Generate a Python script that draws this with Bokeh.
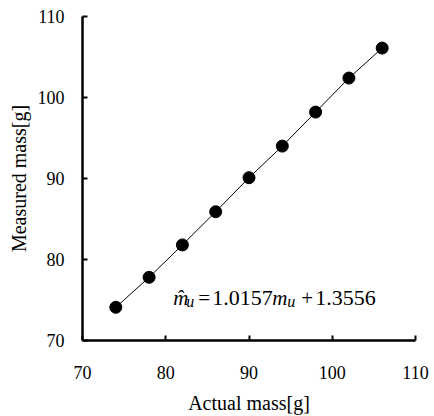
from bokeh.plotting import figure
from bokeh.models import Range1d, FixedTicker, Label
from bokeh.embed import file_html
from bokeh.resources import INLINE

actual_mass = [74, 78, 82, 86, 90, 94, 98, 102, 106]
measured_mass = [74.1, 77.8, 81.8, 85.9, 90.1, 94.0, 98.2, 102.4, 106.1]
ticks = [70, 80, 90, 100, 110]
eq_anchor_x = [80.9]
eq_anchor_y = [75.3]

FONT = "Liberation Serif"

p = figure(width=429, height=414, output_backend="svg", toolbar_location=None,
           x_range=Range1d(70, 110), y_range=Range1d(70, 110),
           frame_width=333, frame_height=324,
           min_border_left=82, min_border_top=16, min_border_right=14, min_border_bottom=74)
p.outline_line_color = None
p.xgrid.visible = False
p.ygrid.visible = False

for ax in (p.xaxis[0], p.yaxis[0]):
    ax.ticker = FixedTicker(ticks=ticks)
    ax.axis_line_width = 2.5
    ax.axis_line_color = "black"
    ax.major_tick_in = 5
    ax.major_tick_out = 0
    ax.major_tick_line_width = 2
    ax.minor_tick_line_color = None
    ax.major_label_text_font = FONT
    ax.major_label_text_font_size = "18px"
    ax.major_label_text_color = "black"
    ax.axis_label_text_font = FONT
    ax.axis_label_text_font_size = "20px"
    ax.axis_label_text_font_style = "normal"
    ax.axis_label_text_color = "black"

p.xaxis.axis_label = "Actual mass[g]"
p.yaxis.axis_label = "Measured mass[g]"
p.xaxis.major_label_standoff = 25
p.xaxis.axis_label_standoff = 10
p.yaxis.major_label_standoff = 18
p.yaxis.axis_label_standoff = 5

p.line(actual_mass, measured_mass, line_color="black", line_width=1)
p.scatter(actual_mass, measured_mass, size=12, fill_color="black", line_color="black")

pieces = [
    ("m\u0302", 0, 0, "italic", "21px"),
    ("u", 13, -4, "italic", "16px"),
    ("=", 25, 0, "normal", "21px"),
    ("1.0157", 39, 0, "normal", "22px"),
    ("m", 99, 0, "italic", "21px"),
    ("u", 114, -4, "italic", "16px"),
    ("+", 128, 0, "normal", "21px"),
    ("1.3556", 142, 0, "normal", "22px"),
]
for txt, dx, dy, style, size in pieces:
    p.add_layout(Label(x=eq_anchor_x[0], y=eq_anchor_y[0], x_offset=dx, y_offset=dy, text=txt,
                       text_font=FONT, text_font_style=style, text_font_size=size,
                       text_color="black", text_baseline="alphabetic", text_align="left"))

open("out.html", "w").write(file_html(p, INLINE))
